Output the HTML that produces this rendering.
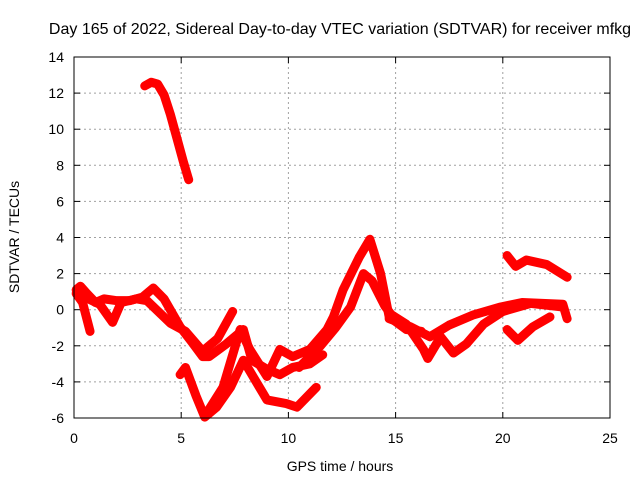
<!DOCTYPE html>
<html><head><meta charset="utf-8"><style>
body{margin:0;background:#fff}
svg{display:block;font-family:"Liberation Sans",sans-serif}
</style></head><body>
<svg id="chart" width="640" height="480" viewBox="0 0 640 480">
<rect width="640" height="480" fill="#fff"/>
<text x="340" y="34" font-size="16" text-anchor="middle">Day 165 of 2022, Sidereal Day-to-day VTEC variation (SDTVAR) for receiver mfkg</text>
<text x="340" y="471" font-size="14" text-anchor="middle">GPS time / hours</text>
<text x="0" y="0" font-size="14" text-anchor="middle" transform="translate(19,237) rotate(-90)">SDTVAR / TECUs</text>
<g id="grid"></g><g id="ticks"></g><g id="series"></g>
<rect x="74" y="57" width="536" height="361" fill="none" stroke="#000" stroke-width="1"/>
</svg>
<script>
const xTicks=[0,5,10,15,20,25];
const yTicks=[-6,-4,-2,0,2,4,6,8,10,12,14];
const traceTop=[[3.3,12.4],[3.6,12.6],[3.9,12.5],[4.2,11.9],[4.5,10.8],[4.8,9.5],[5.1,8.2],[5.35,7.2]];
const traceA=[[0.1,1.1],[0.3,1.3],[0.6,0.9],[1.0,0.4],[1.4,0.6],[2.0,0.5],[2.6,0.5],[3.2,0.7],[3.7,1.2],[4.2,0.6],[4.95,-0.95],[5.5,-1.8],[6.0,-2.6],[6.3,-2.6],[7.1,-1.9],[7.9,-1.1],[8.3,-2.8],[9.0,-3.3],[9.6,-3.6],[10.2,-3.2],[11.0,-3.0],[11.6,-2.5]];
const traceB=[[0.1,0.9],[0.4,0.4],[0.75,-1.2]];
const traceB2=[[0.5,0.7],[1.2,0.3],[1.8,-0.7],[2.2,0.4],[2.9,0.6],[3.4,0.5],[4.5,-0.75],[5.2,-1.2],[6.0,-2.3],[6.7,-1.6],[7.4,-0.1]];
const traceC=[[4.95,-3.6],[5.2,-3.2],[5.7,-4.8],[6.1,-5.95],[6.65,-5.4],[7.3,-4.3],[7.9,-2.8],[8.8,-4.6],[9.0,-5.0],[9.9,-5.2],[10.4,-5.4],[11.3,-4.3]];
const traceD=[[6.1,-5.9],[6.95,-4.3],[7.75,-1.1],[8.2,-2.2],[9.0,-3.7],[9.6,-2.2],[10.2,-2.6],[11.0,-2.2],[11.8,-1.1],[12.1,-0.4],[12.55,1.1],[13.3,2.9],[13.8,3.9],[14.3,2.0],[14.7,-0.4],[15.5,-1.1],[16.2,-1.2]];
const traceD2=[[10.5,-3.2],[11.5,-2.0],[12.2,-1.0],[12.9,0.15],[13.5,2.0],[13.9,1.6],[14.5,0.2],[15.0,-0.6]];
const traceE=[[14.7,-0.2],[15.5,-0.8],[16.3,-2.2],[16.5,-2.7],[17.1,-1.5],[17.7,-2.4],[18.3,-1.9],[19.1,-0.8],[20.0,-0.1],[21.3,0.35],[22.8,0.15]];
const traceF=[[14.7,-0.5],[15.7,-0.95],[16.6,-1.5],[17.5,-0.85],[18.6,-0.3],[19.9,0.15],[20.9,0.4],[22.8,0.3],[23.0,-0.5]];
const traceG=[[20.2,-1.1],[20.7,-1.7],[21.4,-0.95],[22.2,-0.4]];
const traceH=[[20.2,3.0],[20.6,2.4],[21.1,2.75],[22.05,2.5],[23.0,1.8]];
const traces=[traceTop,traceA,traceB,traceB2,traceC,traceD,traceD2,traceE,traceF,traceG,traceH];
const X0=74,X1=610,Y0=418,Y1=57,xmin=0,xmax=25,ymin=-6,ymax=14;
function sx(v){return X0+(v-xmin)/(xmax-xmin)*(X1-X0);}
function sy(v){return Y0-(v-ymin)/(ymax-ymin)*(Y0-Y1);}
const NS="http://www.w3.org/2000/svg";
const grid=document.getElementById('grid'),ticks=document.getElementById('ticks'),ser=document.getElementById('series');
function mk(t,a,p){const e=document.createElementNS(NS,t);for(const k in a)e.setAttribute(k,a[k]);p.appendChild(e);return e;}
xTicks.forEach(v=>{
 if(v>xmin&&v<xmax){const g=mk('line',{x1:sx(v),x2:sx(v),y1:Y1,y2:Y0,stroke:'#a0a0a0','stroke-dasharray':'2,3'},grid);
 
 }
 mk('line',{x1:sx(v),x2:sx(v),y1:Y0,y2:Y0-6,stroke:'#000'},ticks);
 mk('line',{x1:sx(v),x2:sx(v),y1:Y1,y2:Y1+6,stroke:'#000'},ticks);
 const t=mk('text',{x:sx(v),y:Y0+25,'font-size':14,'text-anchor':'middle'},ticks);t.textContent=v;
 
 
});
yTicks.forEach(v=>{
 if(v>ymin&&v<ymax){const g=mk('line',{x1:X0,x2:X1,y1:sy(v),y2:sy(v),stroke:'#a0a0a0','stroke-dasharray':'2,3'},grid);
 
 }
 mk('line',{x1:X0,x2:X0+6,y1:sy(v),y2:sy(v),stroke:'#000'},ticks);
 mk('line',{x1:X1,x2:X1-6,y1:sy(v),y2:sy(v),stroke:'#000'},ticks);
 const t=mk('text',{x:X0-10,y:sy(v)+5,'font-size':14,'text-anchor':'end'},ticks);t.textContent=v;
 
 
});
traces.forEach(tr=>{
 const p=mk('polyline',{points:tr.map(d=>sx(d[0])+','+sy(d[1])).join(' '),fill:'none',stroke:'#ff0000','stroke-width':9,'stroke-linejoin':'round','stroke-linecap':'round'},ser);
 
 
});
</script>
</body></html>
